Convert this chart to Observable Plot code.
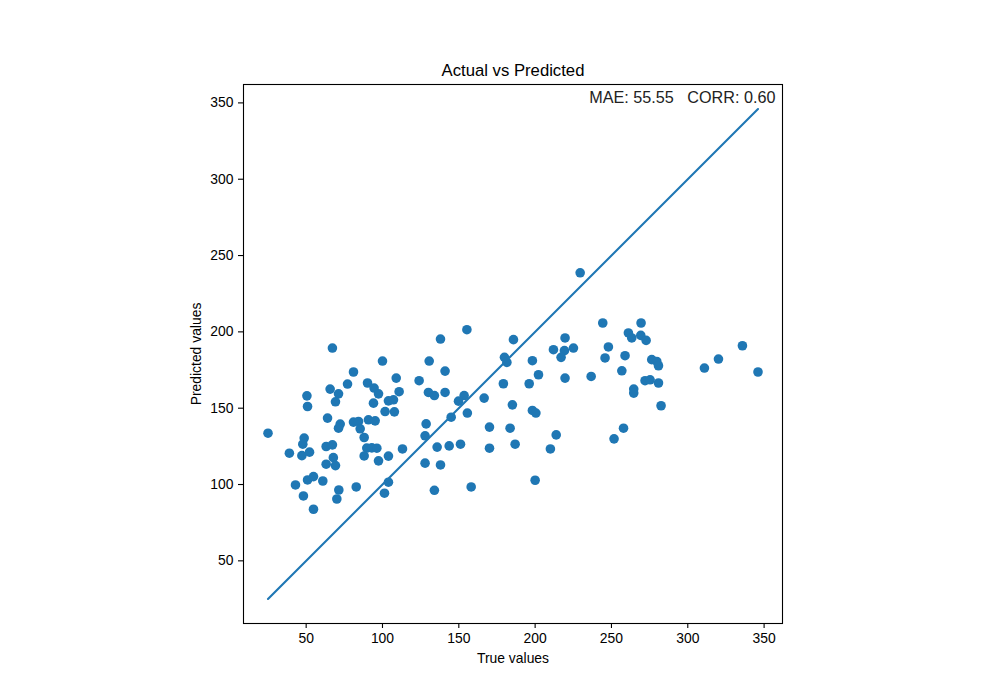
<!DOCTYPE html>
<html><head><meta charset="utf-8">
<script src="https://cdn.jsdelivr.net/npm/d3@7"></script>
<script src="https://cdn.jsdelivr.net/npm/@observablehq/plot@0.6"></script>
<style>body{margin:0;background:#fff} #chart{width:1000px;height:700px}</style>
</head><body><div id="chart"></div>
<script>
const trueValues = [
67.2,81.0,77.1,90.2,94.5,65.7,71.2,97.4,50.5,50.9,69.2,94.1,64.0,
72.3,71.2,81.0,84.3,85.4,90.8,95.2,88.0,25.0,48.7,47.8,39.0,47.2,52.2,63.1,67.2,67.8,63.1,69.2,89.7,93.0,96.3,88.0,97.4,43.0,50.9,54.8,60.9,48.2,71.4,70.1,82.8,54.8,
155.3,138.0,100.0,130.6,141.0,109.0,124.0,110.9,130.1,134.0,141.0,153.5,149.8,166.6,103.9,107.2,101.7,107.8,155.6,145.0,
128.6,127.9,170.1,113.1,135.8,143.7,151.1,170.1,103.9,127.9,138.0,103.9,101.3,134.0,158.1,
185.8,179.9,181.5,198.2,202.2,179.2,196.1,185.1,198.2,200.5,219.6,212.0,219.2,225.1,217.0,219.6,236.7,244.3,248.0,245.8,256.8,
183.6,186.9,213.8,210.0,200.0,251.7,
269.4,261.1,263.3,269.2,272.7,258.9,276.4,279.7,280.8,272.0,275.3,280.8,264.6,264.6,282.5,257.9,310.9,320.1,335.8,346.0,
229.5
];
const predictedValues = [
189.4,173.7,165.8,166.5,163.2,162.5,159.4,159.4,158.1,151.1,154.2,153.3,143.5,
139.6,136.9,140.9,141.3,136.5,142.4,141.7,130.8,133.6,130.4,126.4,120.5,118.9,121.2,124.9,126.0,117.6,113.3,112.4,123.9,124.0,123.8,118.7,115.5,99.7,103.0,105.2,102.3,92.5,96.4,90.5,98.4,83.8,
201.4,195.3,180.9,180.9,174.3,169.7,168.0,160.8,160.3,158.3,160.3,158.3,154.6,156.6,154.8,155.5,147.8,147.6,146.8,144.1,
139.7,131.9,137.6,123.3,124.5,125.3,126.4,123.8,118.6,114.0,112.8,101.5,94.3,96.2,98.4,
194.9,183.3,180.0,181.1,171.9,166.0,166.0,152.2,148.5,146.8,196.0,188.3,187.7,189.4,183.3,169.7,170.8,205.8,190.1,182.9,174.5,
136.9,126.4,132.5,123.3,102.8,129.9,
205.8,199.3,196.0,197.7,194.4,184.4,181.8,180.6,177.8,168.0,168.6,166.5,162.5,159.9,151.6,136.9,176.3,182.2,190.9,173.7,
238.7
];
const xTicks = [50,100,150,200,250,300,350];
const yTicks = [50,100,150,200,250,300,350];
const titleText = "Actual vs Predicted";
const annotationText = "MAE: 55.55   CORR: 0.60";
const xLabel = "True values";
const yLabel = "Predicted values";

const points = trueValues.map((t, i) => ({t, p: predictedValues[i]}));
const [lo, hi] = d3.extent(trueValues);
const diag = [{v: lo}, {v: hi}];
const pad = (hi - lo) * 0.05;
const domain = [lo - pad, hi + pad];
const font = "'Liberation Sans', Arial, sans-serif";

const chart = Plot.plot({
  width: 1000,
  height: 700,
  marginLeft: 243,
  marginRight: 218,
  marginTop: 84,
  marginBottom: 77,
  x: {domain},
  y: {domain},
  style: {fontFamily: font, background: "#fff", color: "#000"},
  marks: [
    Plot.dot(points, {x: "t", y: "p", r: 4.8, fill: "#1f77b4"}),
    Plot.line(diag, {x: "v", y: "v", stroke: "#1f77b4", strokeWidth: 2.1}),
    Plot.frame({stroke: "#000", strokeWidth: 1.1}),
    Plot.axisX({ticks: xTicks, tickSize: 5, tickPadding: 5, fontSize: 13.9, label: null, tickFormat: d => String(d), strokeWidth: 1.1}),
    Plot.axisY({ticks: yTicks, tickSize: 5, tickPadding: 5, fontSize: 13.9, label: null, tickFormat: d => String(d), strokeWidth: 1.1}),
    Plot.text([titleText], {text: d => d, frameAnchor: "top", lineAnchor: "middle", dy: -14, fontSize: 16.7, fill: "#000"}),
    Plot.text([annotationText], {text: d => d, frameAnchor: "top-right", textAnchor: "end", lineAnchor: "middle", dx: -7, dy: 13, fontSize: 16.2, fill: "#222", style: "white-space:pre"}),
    Plot.text([xLabel], {text: d => d, frameAnchor: "bottom", lineAnchor: "middle", dy: 35, fontSize: 13.9, fill: "#000"}),
    Plot.text([yLabel], {text: d => d, frameAnchor: "left", textAnchor: "middle", lineAnchor: "middle", dx: -47, rotate: -90, fontSize: 13.9, fill: "#000"})
  ]
});
document.getElementById("chart").appendChild(chart);
</script>
</body></html>
